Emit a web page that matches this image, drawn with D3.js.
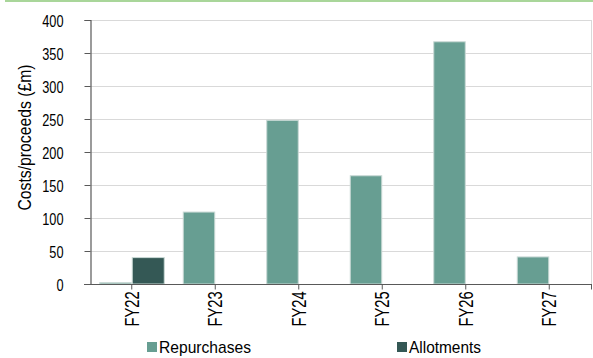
<!DOCTYPE html>
<html><head><meta charset="utf-8">
<script src="https://cdn.jsdelivr.net/npm/d3@7"></script>
<style>body{margin:0;background:#fff}svg{display:block}text{font-family:"Liberation Sans",Arial,sans-serif;fill:#000}</style>
</head><body><svg id="c" width="593" height="358"></svg>
<script>
const categories = ["FY22","FY23","FY24","FY25","FY26","FY27"];
const repurchases = [2,109,248,164,367,41];
const allotments = [40,0,0,0,0,0];
const seriesNames = ["Repurchases","Allotments"];
const colors = ["#679e92","#345855"];
const yTicks = [0,50,100,150,200,250,300,350,400];

const svg = d3.select("#c");
const m = {l:90, r:591, t:20, b:284};
const x = d3.scaleBand().domain(categories).range([m.l, m.r]);
const y = d3.scaleLinear().domain([0,400]).range([m.b, m.t]);
const bw = 32;

function squeeze(sel, f){
  sel.each(function(){
    const L = this.getComputedTextLength();
    d3.select(this).attr("textLength", L*f).attr("lengthAdjust","spacingAndGlyphs");
  });
}

svg.append("line").attr("x1",5).attr("x2",593).attr("y1",1).attr("y2",1).attr("stroke","#a9d69a").attr("stroke-width",2);

// gridlines
svg.append("g").selectAll("line").data(yTicks.filter(d=>d>0)).join("line")
  .attr("x1",m.l).attr("x2",m.r).attr("y1",d=>Math.round(y(d))+0.5).attr("y2",d=>Math.round(y(d))+0.5)
  .attr("stroke","#d9d9d9").attr("stroke-width",1);
svg.append("line").attr("x1",m.r+0.5).attr("x2",m.r+0.5).attr("y1",m.t).attr("y2",m.b).attr("stroke","#d9d9d9");

const data = categories.map((c,i)=>({c, r:repurchases[i], a:allotments[i]}));
const cx = c => x(c) + x.bandwidth()/2;
svg.append("g").selectAll("rect").data(data).join("rect")
  .attr("x",d=>cx(d.c)-bw).attr("width",bw-0.5)
  .attr("y",d=>y(d.r)).attr("height",d=>y(0)-y(d.r))
  .attr("fill",colors[0]).attr("stroke","#c9d9d5").attr("stroke-width",1);
svg.append("g").selectAll("rect").data(data.filter(d=>d.a>0)).join("rect")
  .attr("x",d=>cx(d.c)+0.5).attr("width",bw)
  .attr("y",d=>y(d.a)).attr("height",d=>y(0)-y(d.a))
  .attr("fill",colors[1]).attr("stroke","#c9d9d5").attr("stroke-width",1);

// y axis
const ya = svg.append("g").attr("transform",`translate(${m.l+0.5},0)`)
  .call(d3.axisLeft(y).tickValues(yTicks).tickSize(6).tickPadding(21));
ya.select(".domain").attr("stroke","#595959").attr("stroke-width",1.2);
ya.selectAll(".tick line").attr("stroke","#595959");
ya.selectAll(".tick text").attr("font-size",17).attr("font-family",null).attr("fill","#000").attr("dy","0.4em");
squeeze(ya.selectAll(".tick text"), 0.75);

// x axis
const xa = svg.append("g").attr("transform",`translate(0,${m.b+0.5})`);
xa.append("line").attr("x1",m.l-6).attr("x2",m.r+1).attr("stroke","#595959").attr("stroke-width",1.2);
xa.selectAll("line.t").data(categories.map(c=>cx(c)).concat([m.r+0.5])).join("line").attr("class","t")
  .attr("x1",d=>d).attr("x2",d=>d).attr("y1",0).attr("y2",5).attr("stroke","#595959");
const xl = xa.selectAll("text").data(categories).join("text")
  .attr("transform",d=>`translate(${cx(d)+7},7) rotate(-90)`)
  .attr("text-anchor","end").attr("font-size",20).text(d=>d);
squeeze(xl, 0.73);

// y label
svg.append("text").attr("transform","translate(30.5,137.5) rotate(-90)").attr("text-anchor","middle")
  .attr("font-size",18).attr("textLength",146).attr("lengthAdjust","spacingAndGlyphs").text("Costs/proceeds (£m)");

// legend
const lx = [147,397];
const lw = [92,72];
seriesNames.forEach((n,i)=>{
  svg.append("rect").attr("x",lx[i]).attr("y",342).attr("width",10).attr("height",10).attr("fill",colors[i]);
  svg.append("text").attr("x",lx[i]+12).attr("y",353).attr("font-size",17)
    .attr("textLength",lw[i]).attr("lengthAdjust","spacingAndGlyphs").text(n);
});
</script></body></html>
